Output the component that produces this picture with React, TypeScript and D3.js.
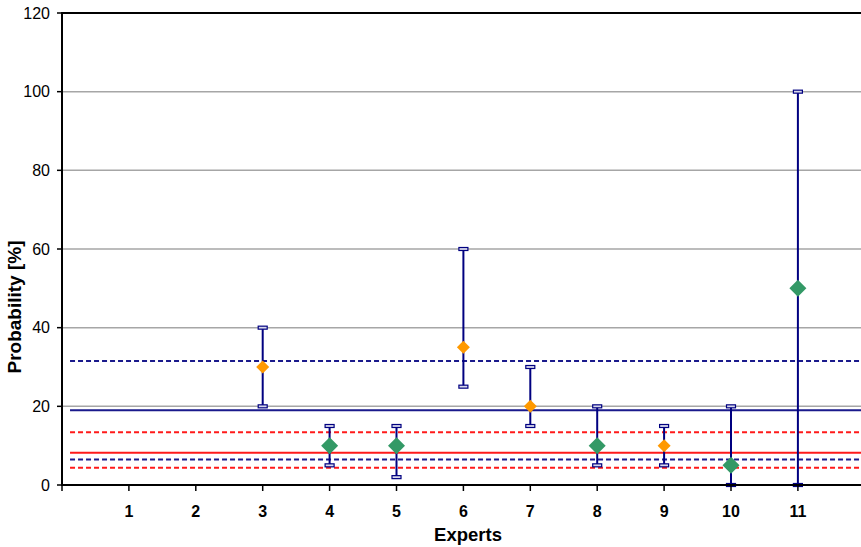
import React from "react";
import * as d3 from "d3";

// Expert estimates: best guess with lower / upper bounds
const experts = [3, 4, 5, 6, 7, 8, 9, 10, 11];
const bestGuess = [30, 10, 10, 35, 20, 10, 10, 5, 50];
const lowerBound = [20, 5, 2, 25, 15, 5, 5, 0, 0];
const upperBound = [40, 15, 15, 60, 30, 20, 15, 20, 100];
const markerKind = ["orange", "green", "green", "orange", "orange", "green", "orange", "green", "green"];

// Aggregate reference levels
const refLevels = [
  { value: 31.5, color: "#1a1a8c", dashed: true },
  { value: 19.0, color: "#1a1a8c", dashed: false },
  { value: 13.4, color: "#ff1a1a", dashed: true },
  { value: 8.2, color: "#ff1a1a", dashed: false },
  { value: 6.5, color: "#1a1a8c", dashed: true },
  { value: 4.4, color: "#ff1a1a", dashed: true },
];

const xTicks = [1, 2, 3, 4, 5, 6, 7, 8, 9, 10, 11];
const yTicks = [0, 20, 40, 60, 80, 100, 120];

const W = 861;
const H = 547;
const FONT = "Liberation Sans, Arial, sans-serif";

export default function App() {
  const x = d3.scaleLinear().domain([0, 12]).range([62, 864.8]);
  const y = d3.scaleLinear().domain([0, 120]).range([485, 13]);
  const refStart = 0.12;

  const diamond = (cx: number, cy: number, r: number) =>
    `M${cx},${cy - r}L${cx + r},${cy}L${cx},${cy + r}L${cx - r},${cy}Z`;

  return (
    <svg
      width={W}
      height={H}
      style={{ position: "absolute", left: 0, top: 0, background: "#fff" }}
      fontFamily={FONT}
    >
      {/* gridlines */}
      {yTicks.filter((t) => t > 0 && t < 120).map((t) => (
        <line key={t} x1={x(0)} x2={W} y1={y(t)} y2={y(t)} stroke="#a6a6a6" strokeWidth={1.5} />
      ))}
      {/* top border */}
      <line x1={x(0)} x2={W} y1={y(120)} y2={y(120)} stroke="#000" strokeWidth={2} />

      {/* reference levels */}
      {refLevels.map((r, i) => (
        <line
          key={i}
          x1={x(refStart)}
          x2={W}
          y1={y(r.value)}
          y2={y(r.value)}
          stroke={r.color}
          strokeWidth={2}
          strokeDasharray={r.dashed ? "5,3" : undefined}
        />
      ))}

      {/* error bars */}
      {experts.map((e, i) => {
        const cx = x(e);
        return (
          <g key={e}>
            <line x1={cx} x2={cx} y1={y(lowerBound[i])} y2={y(upperBound[i])} stroke="#000080" strokeWidth={2} />
            {[lowerBound[i], upperBound[i]].map((v, j) => (
              <rect
                key={j}
                x={cx - 4.5}
                y={y(v) - 1.5}
                width={9}
                height={3}
                fill="#d8d8ec"
                stroke="#000080"
                strokeWidth={1.2}
              />
            ))}
          </g>
        );
      })}

      {/* best-guess markers */}
      {experts.map((e, i) => {
        const green = markerKind[i] === "green";
        return (
          <path
            key={e}
            d={diamond(x(e), y(bestGuess[i]), green ? 8.5 : 6.5)}
            fill={green ? "#339966" : "#ff9900"}
          />
        );
      })}

      {/* axes */}
      <line x1={x(0)} x2={x(0)} y1={y(120) - 1} y2={y(0) + 1} stroke="#000" strokeWidth={2} />
      <line x1={x(0) - 1} x2={W} y1={y(0)} y2={y(0)} stroke="#000" strokeWidth={2} />
      {yTicks.map((t) => (
        <g key={t}>
          <line x1={x(0) - 5} x2={x(0)} y1={y(t)} y2={y(t)} stroke="#000" strokeWidth={1.5} />
          <text x={50} y={y(t)} dy="0.35em" textAnchor="end" fontSize={16} fill="#000">
            {t}
          </text>
        </g>
      ))}
      {[0, ...xTicks].map((t) => (
        <line key={t} x1={x(t)} x2={x(t)} y1={y(0)} y2={y(0) + 6} stroke="#000" strokeWidth={1.5} />
      ))}
      {xTicks.map((t) => (
        <text key={t} x={x(t)} y={517} textAnchor="middle" fontSize={16} fontWeight="bold" fill="#000">
          {t}
        </text>
      ))}

      {/* axis titles */}
      <text x={468} y={541} textAnchor="middle" fontSize={18.5} fontWeight="bold" fill="#000">
        Experts
      </text>
      <text
        transform="translate(21,307) rotate(-90)"
        textAnchor="middle"
        fontSize={19}
        fontWeight="bold"
        fill="#000"
      >
        Probability [%]
      </text>
    </svg>
  );
}
